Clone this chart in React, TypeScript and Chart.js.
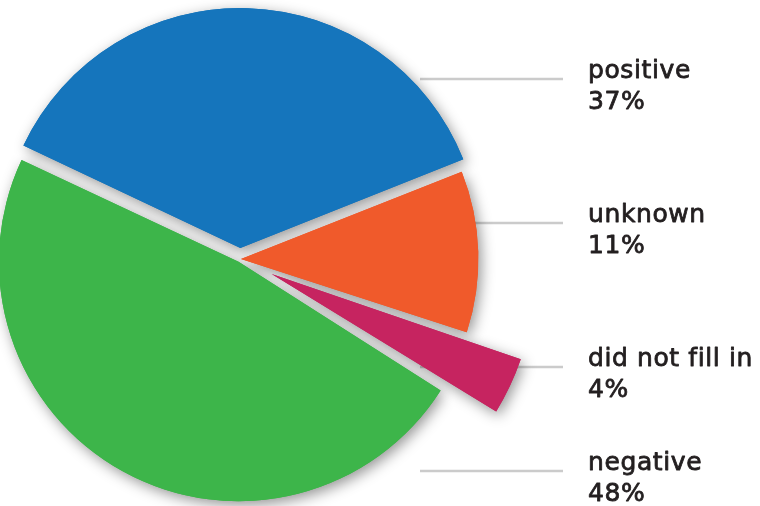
import React, { useEffect, useRef } from 'react';
import { Chart, registerables } from 'chart.js';

Chart.register(...registerables);

// ---- data ----
const categories = ['positive', 'unknown', 'did not fill in', 'negative'];
const values = [37, 11, 4, 48];
const colors = ['#1575BC', '#F05A2B', '#C62460', '#3DB54A'];
// explode distance of each slice (style)
const explode = [44, 4, 140, 12];
// y of each label's leader line (layout)
const labelLineY = [79, 223, 367, 471];

const decorPlugin = {
  id: 'decor',
  beforeDatasetsDraw(chart: any) {
    const ctx = chart.ctx as CanvasRenderingContext2D;
    // leader lines, beneath the pie
    ctx.save();
    ctx.strokeStyle = '#cbcbcb';
    ctx.lineWidth = 2.5;
    labelLineY.forEach((y) => {
      ctx.beginPath();
      ctx.moveTo(420, y);
      ctx.lineTo(563, y);
      ctx.stroke();
    });
    ctx.restore();
    // soft shadow pass
    const meta = chart.getDatasetMeta(0);
    ctx.save();
    ctx.shadowColor = 'rgba(0,0,0,0.42)';
    ctx.shadowBlur = 14;
    ctx.shadowOffsetX = 3;
    ctx.shadowOffsetY = 4;
    meta.data.forEach((a: any) => a.draw(ctx));
    ctx.restore();
  },
  afterDatasetsDraw(chart: any) {
    const ctx = chart.ctx as CanvasRenderingContext2D;
    ctx.save();
    ctx.fillStyle = '#231F20';
    ctx.strokeStyle = '#231F20';
    ctx.lineWidth = 0.8;
    ctx.lineJoin = 'round';
    ctx.font = '25px "DejaVu Sans"';
    (ctx as any).letterSpacing = '0.6px';
    ctx.textAlign = 'left';
    ctx.textBaseline = 'alphabetic';
    categories.forEach((c, i) => {
      const y = labelLineY[i];
      const v = `${values[i]}%`;
      ctx.fillText(c, 588, y - 1);
      ctx.strokeText(c, 588, y - 1);
      ctx.fillText(v, 588, y + 30);
      ctx.strokeText(v, 588, y + 30);
    });
    ctx.restore();
  },
};

export default function App() {
  const ref = useRef<HTMLCanvasElement | null>(null);

  useEffect(() => {
    if (!ref.current) return;
    const chart = new Chart(ref.current, {
      type: 'pie',
      data: {
        labels: categories,
        datasets: [
          {
            data: values,
            backgroundColor: colors,
            borderWidth: 0,
            offset: explode,
            hoverOffset: 0,
          },
        ],
      },
      options: {
        animation: false,
        responsive: false,
        rotation: -64.8,
        radius: 237,
        layout: { padding: { left: 0, right: 280, top: 12, bottom: 0 } },
        plugins: {
          legend: { display: false },
          tooltip: { enabled: false },
        },
        events: [],
      } as any,
      plugins: [decorPlugin],
    });
    return () => chart.destroy();
  }, []);

  return (
    <div style={{ position: 'absolute', left: 0, top: 0, width: 760, height: 506, background: '#fff' }}>
      <canvas ref={ref} width={760} height={506} style={{ width: 760, height: 506, display: 'block' }} />
    </div>
  );
}
